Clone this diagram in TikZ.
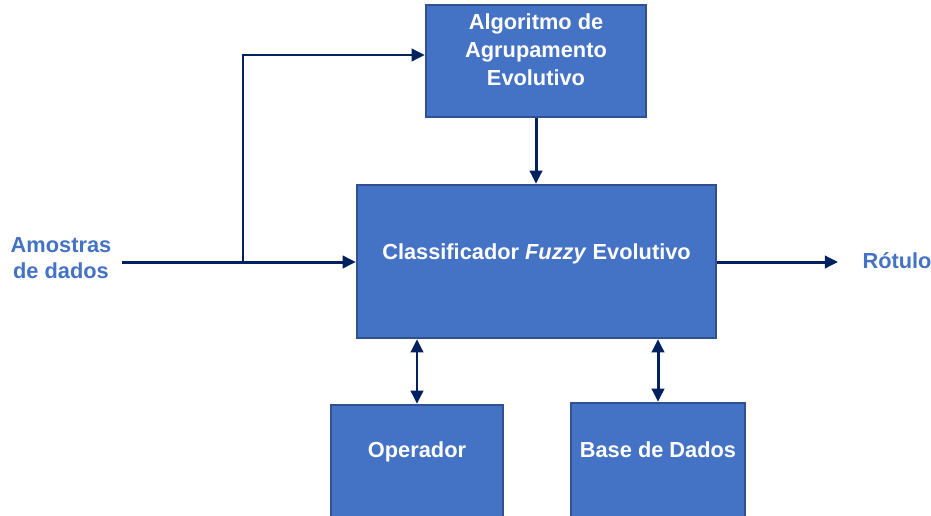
\documentclass[tikz,border=0pt]{standalone}
\usepackage{fontspec}
\setmainfont{Liberation Sans}
\usetikzlibrary{arrows.meta}

\definecolor{boxblue}{HTML}{4472C4}
\definecolor{boxedge}{HTML}{2F528F}
\definecolor{linenavy}{HTML}{002060}

\tikzset{
  block/.style={draw=boxedge, line width=1.4pt, fill=boxblue, inner sep=0pt},
  blocktext/.style={text=white, font=\fontsize{12.4}{16}\selectfont\bfseries, align=center},
  outtext/.style={text=boxblue, font=\fontsize{12.4}{15}\selectfont\bfseries, align=center},
  flow/.style={draw=linenavy, line width=1.7pt, -{Triangle[length=7.5pt,width=7pt]}},
  both/.style={draw=linenavy, line width=1.7pt, {Triangle[length=7.5pt,width=7pt]}-{Triangle[length=7.5pt,width=7pt]}}
}

\begin{document}
\begin{tikzpicture}
  \useasboundingbox (0,0) rectangle (18.62,-10.3);

  % Blocks
  \node[block, minimum width=4.4cm, minimum height=2.24cm] (algo) at (10.72,-1.22) {};
  \node[block, minimum width=7.18cm, minimum height=3.06cm] (classif) at (10.73,-5.23) {};
  \node[block, minimum width=3.44cm, minimum height=2.8cm] (oper) at (8.34,-9.5) {};
  \node[block, minimum width=3.48cm, minimum height=2.8cm] (base) at (13.16,-9.46) {};

  % Block texts
  \node[blocktext] (algotxt) at ([yshift=0.22cm]algo.center) {Algoritmo de\\Agrupamento\\Evolutivo};
  \node[blocktext] (classiftxt) at ([yshift=0.16cm]classif.center) {Classificador \textit{Fuzzy} Evolutivo};
  \node[blocktext] (opertxt) at ([yshift=0.46cm]oper.center) {Operador};
  \node[blocktext] (basetxt) at ([yshift=0.46cm]base.center) {Base de Dados};

  % Input and output
  \node[outtext] (amostras) at (1.22,-5.16) {Amostras\\de dados};
  \node[outtext] (rotulo) at (17.94,-5.22) {Rótulo};
  \coordinate (inicio) at (2.44,-5.24);
  \coordinate (ramo) at (4.86,-5.24);
  \coordinate (topo) at (4.86,-1.1);
  \coordinate (saida) at (16.76,-5.24);

  % Connectors
  \draw[flow] (inicio) -- (ramo) -- (ramo -| classif.west);
  \draw[flow] (ramo) -- (topo) -- (topo -| algo.west);
  \draw[flow] (algo.south) -- (algo.south |- classif.north);
  \draw[flow] (classif.east |- saida) -- (saida);
  \draw[both] (oper.north |- classif.south) -- (oper.north);
  \draw[both] (base.north |- classif.south) -- (base.north);
\end{tikzpicture}
\end{document}
